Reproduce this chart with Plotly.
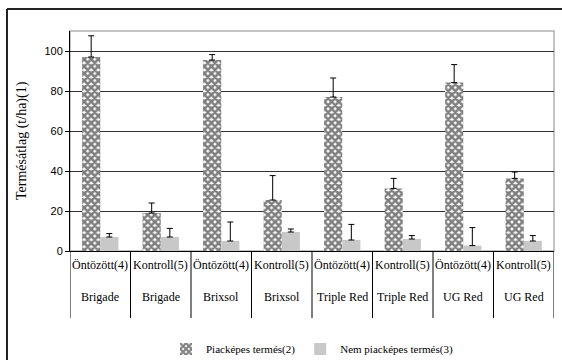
import plotly.graph_objects as go

treatments = ["Öntözött(4)", "Kontroll(5)", "Öntözött(4)", "Kontroll(5)",
              "Öntözött(4)", "Kontroll(5)", "Öntözött(4)", "Kontroll(5)"]
varieties = ["Brigade", "Brigade", "Brixsol", "Brixsol",
             "Triple Red", "Triple Red", "UG Red", "UG Red"]
marketable = [97, 19, 95.5, 25.5, 77, 31.3, 84.2, 36.3]
marketable_err = [10.6, 5, 2.7, 12.2, 9.5, 5, 9, 3.2]
non_marketable = [7, 7, 5, 9.5, 5.5, 6, 2.7, 5]
non_marketable_err = [1.7, 4.3, 9.5, 1.5, 7.8, 1.7, 9, 2.7]
series_names = ["Piacképes termés(2)", "Nem piacképes termés(3)"]
y_title = "Termésátlag (t/ha)(1)"
y_ticks = [0, 20, 40, 60, 80, 100]

idx = list(range(len(treatments)))
serif = "Liberation Serif"
sans = "Liberation Sans"

fig = go.Figure()
fig.add_trace(go.Bar(
    x=idx, y=marketable, name=series_names[0],
    marker=dict(color="white", line=dict(width=0),
                pattern=dict(shape="x", fgcolor="black", bgcolor="white",
                             size=5, solidity=0.75)),
    error_y=dict(type="data", symmetric=False, array=marketable_err,
                 arrayminus=[0] * len(idx), color="black", thickness=1, width=3),
))
fig.add_trace(go.Bar(
    x=idx, y=non_marketable, name=series_names[1],
    marker=dict(color="#c8c8c8", line=dict(width=0)),
    error_y=dict(type="data", symmetric=False, array=non_marketable_err,
                 arrayminus=[0] * len(idx), color="black", thickness=1, width=3),
))

row1_y = -(265 - 251) / 220
row2_y = -(297 - 251) / 220
sep_bottom = -(318 - 251) / 220

annotations = []
for i in idx:
    annotations.append(dict(x=i, y=row1_y, xref="x", yref="paper", text=treatments[i],
                            showarrow=False, font=dict(family=serif, size=12, color="black"),
                            yanchor="middle"))
    annotations.append(dict(x=i, y=row2_y, xref="x", yref="paper", text=varieties[i],
                            showarrow=False, font=dict(family=serif, size=12, color="black"),
                            yanchor="middle"))
annotations.append(dict(x=(22 - 70) / 484, y=0.5, xref="paper", yref="paper", text=y_title,
                        textangle=-90, showarrow=False,
                        font=dict(family=serif, size=14, color="black"),
                        xanchor="center", yanchor="middle"))

shapes = []
shapes.append(dict(type="rect", xref="paper", yref="paper", x0=0, x1=1, y0=0, y1=1,
                   line=dict(color="#b0b0b0", width=1.5), layer="below"))
for i in range(len(idx) + 1):
    shapes.append(dict(type="line", xref="x", yref="paper", x0=i - 0.5, x1=i - 0.5,
                       y0=0, y1=sep_bottom, line=dict(color="black", width=1)))
fx0 = (7 - 70) / 484
fy1 = (251 - 9) / 220
fy0 = (251 - 362) / 220
fx1 = (563 - 70) / 484
shapes.append(dict(type="line", xref="paper", yref="paper", x0=fx0, x1=fx1, y0=fy1, y1=fy1,
                   line=dict(color="#222", width=2)))
shapes.append(dict(type="line", xref="paper", yref="paper", x0=fx0, x1=fx0, y0=fy1, y1=fy0,
                   line=dict(color="#222", width=2)))

fig.update_layout(
    width=562, height=360,
    margin=dict(l=70, r=8, t=31, b=109),
    paper_bgcolor="white", plot_bgcolor="white",
    barmode="group", bargap=0.4, bargroupgap=0,
    showlegend=True,
    legend=dict(orientation="h", x=0.5, xanchor="center", yref="container",
                y=(360 - 349) / 360, yanchor="middle",
                font=dict(family=serif, size=11, color="black"),
                itemwidth=30, tracegroupgap=0, bgcolor="rgba(0,0,0,0)"),
    annotations=annotations, shapes=shapes,
    xaxis=dict(range=[-0.5, len(idx) - 0.5], showticklabels=False, showgrid=False,
               zeroline=False, showline=True, linecolor="black", linewidth=1, ticks=""),
    yaxis=dict(range=[0, 110], tickvals=y_ticks, showgrid=True, gridcolor="#333",
               gridwidth=1, zeroline=False, showline=True, linecolor="black", linewidth=1,
               ticks="outside", ticklen=4, tickcolor="black",
               tickfont=dict(family=sans, size=11, color="black")),
)

fig.write_html("out.html", config={"displayModeBar": False},
               post_script="document.body.style.margin='0';document.body.style.overflow='hidden';")
